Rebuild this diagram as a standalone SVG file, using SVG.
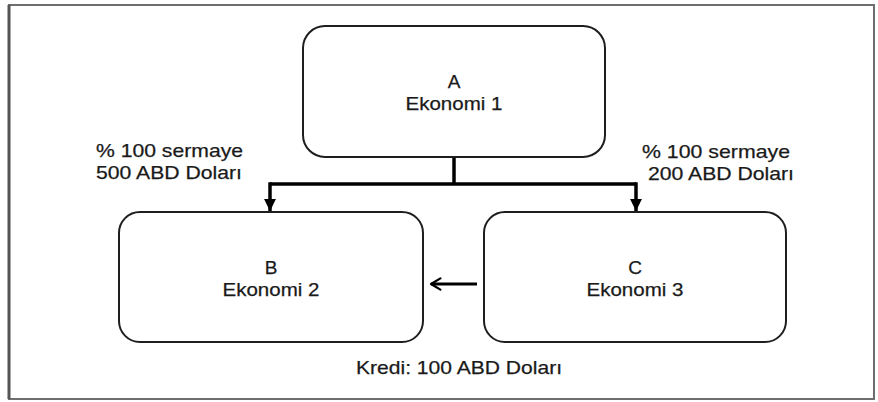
<svg xmlns="http://www.w3.org/2000/svg" width="878" height="402" viewBox="0 0 878 402">
  <defs>
    <style>
      .frame { fill: #ffffff; stroke: #6e6e6e; stroke-width: 2; }
      .node rect { fill: #ffffff; stroke: #1e1e1e; stroke-width: 2; }
      .lbl { font-family: "Liberation Sans", Arial, sans-serif; font-size: 19px; fill: #1a1a1a; stroke: #1a1a1a; stroke-width: 0.25; }
      .mid { text-anchor: middle; }
      .wire { fill: none; stroke: #000000; stroke-width: 3.5; stroke-linejoin: miter; }
    </style>
    <marker id="tri" viewBox="0 0 10 10" refX="10" refY="5" markerWidth="3.4" markerHeight="3.4" orient="auto" markerUnits="strokeWidth">
      <path d="M0,0 L10,5 L0,10 Z" fill="#000000"/>
    </marker>
    <marker id="open" viewBox="0 0 12 12" refX="10" refY="6" markerWidth="5" markerHeight="5" orient="auto" markerUnits="strokeWidth">
      <path d="M2.5,1.5 L10,6 L2.5,10.5" fill="none" stroke="#000000" stroke-width="1.8" stroke-linecap="round" stroke-linejoin="round"/>
    </marker>
  </defs>

  <rect class="frame" x="9" y="5" width="865" height="394"/>
  <line x1="9" y1="5" x2="9" y2="399" stroke="#555555" stroke-width="3"/>

  <!-- ownership links from A and the credit from C to B -->
  <g id="connectors">
    <path class="wire" d="M454,157 V184"/>
    <path class="wire" d="M270,184 H636"/>
    <path class="wire" d="M270,182.25 V211" marker-end="url(#tri)"/>
    <path class="wire" d="M636,182.25 V211" marker-end="url(#tri)"/>
    <path class="wire" d="M477,284 H431" marker-end="url(#open)" style="stroke-width:3"/>
  </g>

  <g id="node-a" class="node">
    <rect x="303" y="26" width="302" height="131" rx="22" ry="22"/>
    <text class="lbl mid" x="454" y="88">A</text>
    <text class="lbl mid" x="454" y="110" textLength="97" lengthAdjust="spacingAndGlyphs">Ekonomi 1</text>
  </g>

  <g id="node-b" class="node">
    <rect x="119" y="212" width="304" height="130" rx="21" ry="21"/>
    <text class="lbl mid" x="271" y="274">B</text>
    <text class="lbl mid" x="271" y="296" textLength="97" lengthAdjust="spacingAndGlyphs">Ekonomi 2</text>
  </g>

  <g id="node-c" class="node">
    <rect x="484" y="212" width="302" height="130" rx="21" ry="21"/>
    <text class="lbl mid" x="635" y="274">C</text>
    <text class="lbl mid" x="635" y="296" textLength="97" lengthAdjust="spacingAndGlyphs">Ekonomi 3</text>
  </g>

  <g id="label-b-share">
    <text class="lbl" x="96" y="157" textLength="147" lengthAdjust="spacingAndGlyphs">% 100 sermaye</text>
    <text class="lbl" x="96" y="179" textLength="146" lengthAdjust="spacingAndGlyphs">500 ABD Doları</text>
  </g>

  <g id="label-c-share">
    <text class="lbl" x="642" y="158" textLength="148" lengthAdjust="spacingAndGlyphs">% 100 sermaye</text>
    <text class="lbl" x="648" y="180" textLength="146" lengthAdjust="spacingAndGlyphs">200 ABD Doları</text>
  </g>

  <g id="label-credit">
    <text class="lbl" x="356" y="374" textLength="206" lengthAdjust="spacingAndGlyphs">Kredi: 100 ABD Doları</text>
  </g>
</svg>
